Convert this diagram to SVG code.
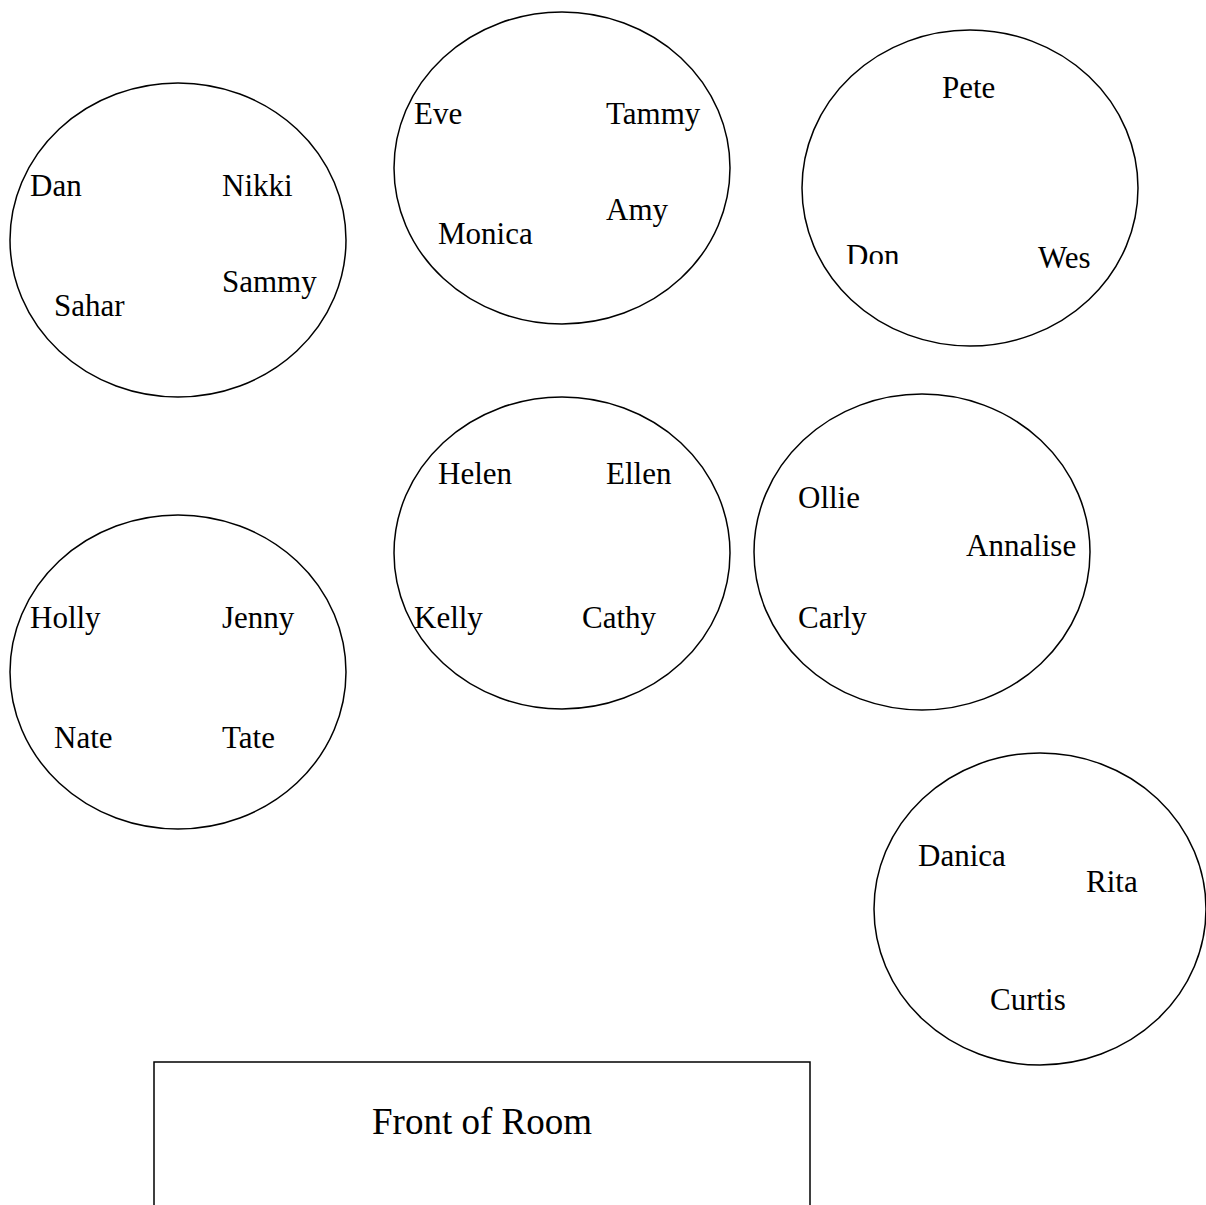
<svg xmlns="http://www.w3.org/2000/svg" width="1206" height="1205" viewBox="0 0 1206 1205">
<style>
.t{fill:none;stroke:#000;stroke-width:1.5}
.n{font-family:'Liberation Serif','Times New Roman',Times,serif;font-size:31px;fill:#000}
.big{font-size:37px}
</style>
<defs><clipPath id="donclip"><rect x="830" y="230" width="80" height="34"/></clipPath></defs>
<rect width="1206" height="1205" fill="#fff"/>
<g id="table1" class="n"><ellipse class="t" cx="178" cy="240" rx="168" ry="157"/>
<text x="30" y="196">Dan</text><text x="222" y="196">Nikki</text><text x="54" y="316">Sahar</text><text x="222" y="292">Sammy</text></g>
<g id="table2" class="n"><ellipse class="t" cx="562" cy="168" rx="168" ry="156"/>
<text x="414" y="124">Eve</text><text x="606" y="124">Tammy</text><text x="438" y="244">Monica</text><text x="606" y="220">Amy</text></g>
<g id="table3" class="n"><ellipse class="t" cx="970" cy="188" rx="168" ry="158"/>
<text x="942" y="98">Pete</text><text x="846" y="266" clip-path="url(#donclip)">Don</text><text x="1038" y="268">Wes</text></g>
<g id="table4" class="n"><ellipse class="t" cx="562" cy="553" rx="168" ry="156"/>
<text x="438" y="484">Helen</text><text x="606" y="484">Ellen</text><text x="414" y="628">Kelly</text><text x="582" y="628">Cathy</text></g>
<g id="table5" class="n"><ellipse class="t" cx="922" cy="552" rx="168" ry="158"/>
<text x="798" y="508">Ollie</text><text x="966" y="556">Annalise</text><text x="798" y="628">Carly</text></g>
<g id="table6" class="n"><ellipse class="t" cx="178" cy="672" rx="168" ry="157"/>
<text x="30" y="628">Holly</text><text x="222" y="628">Jenny</text><text x="54" y="748">Nate</text><text x="222" y="748">Tate</text></g>
<g id="table7" class="n"><ellipse class="t" cx="1040" cy="909" rx="166" ry="156"/>
<text x="918" y="866">Danica</text><text x="1086" y="892">Rita</text><text x="990" y="1010">Curtis</text></g>
<g id="front" class="n"><rect class="t" x="154" y="1062" width="656" height="160"/>
<text class="big" x="482" y="1134" text-anchor="middle">Front of Room</text></g>
<g id="connectors"></g>
</svg>
